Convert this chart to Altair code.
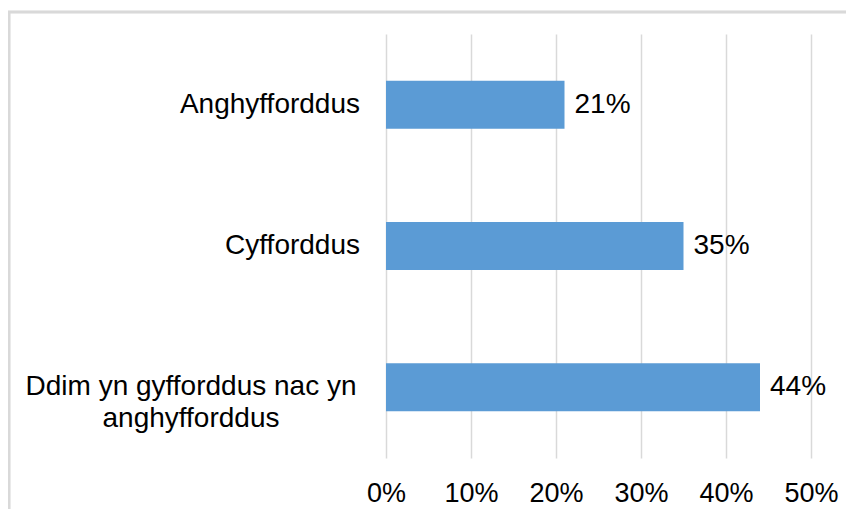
import altair as alt
import pandas as pd

categories = ["Anghyfforddus", "Cyfforddus", "Ddim yn gyfforddus nac yn anghyfforddus"]
label_lines = ["Anghyfforddus", "Cyfforddus", "Ddim yn gyfforddus nac yn\nanghyfforddus"]
values = [0.21, 0.35, 0.44]
value_labels = ["21%", "35%", "44%"]
multiline = [False, False, True]
tick_values = [0, 0.1, 0.2, 0.3, 0.4, 0.5]

df = pd.DataFrame({
    "category": categories,
    "line": label_lines,
    "value": values,
    "vlabel": value_labels,
    "multi": multiline,
})

FONT = "Liberation Sans"
FS = 28
TFS = 27
COLOR = "#5B9BD5"
GRID = "#d9d9d9"

ysc = alt.Scale(domain=categories, paddingInner=0.66, paddingOuter=0.33)
xsc = alt.Scale(domain=[0, 0.5], nice=False)

base = alt.Chart(df)

bars = base.mark_bar(color=COLOR).encode(
    x=alt.X("value:Q", scale=xsc,
            axis=alt.Axis(format=".0%", values=tick_values,
                          grid=True, gridColor=GRID, gridWidth=1.5,
                          domain=False, ticks=False, labelFont=FONT,
                          labelFlush=False, labelOverlap=False,
                          labelFontSize=TFS, labelColor="#000000", labelPadding=22,
                          title=None)),
    y=alt.Y("category:N", scale=ysc, sort=categories, axis=None),
)

vals = base.mark_text(align="left", baseline="middle", dx=10, font=FONT,
                      fontSize=FS, color="#000000").encode(
    x=alt.X("value:Q", scale=xsc),
    y=alt.Y("category:N", scale=ysc, sort=categories),
    text="vlabel:N",
)

single = base.transform_filter("!datum.multi").mark_text(
    align="right", baseline="middle", font=FONT, fontSize=FS, color="#000000"
).encode(
    x=alt.value(-26),
    y=alt.Y("category:N", scale=ysc, sort=categories),
    text="line:N",
)

multi = base.transform_filter("datum.multi").mark_text(
    align="center", baseline="middle", font=FONT, fontSize=FS, color="#000000",
    lineBreak="\n", lineHeight=32
).encode(
    x=alt.value(-195),
    y=alt.Y("category:N", scale=ysc, sort=categories),
    text="line:N",
)

frame_top = base.mark_rule(color=GRID, strokeWidth=2.5).encode(
    x=alt.value(-378), x2=alt.value(460), y=alt.value(-22)
)
frame_left = base.mark_rule(color=GRID, strokeWidth=2.5).encode(
    x=alt.value(-377), y=alt.value(-22), y2=alt.value(480)
)

chart = alt.layer(frame_top, frame_left, bars, vals, single, multi).properties(
    width=425, height=424,
    autosize=alt.AutoSizeParams(type="none"),
    padding={"left": 378, "top": 26, "right": 35, "bottom": 51},
).configure_view(stroke=None)

chart.save("out.html", embed_options={"renderer": "svg", "actions": False})
